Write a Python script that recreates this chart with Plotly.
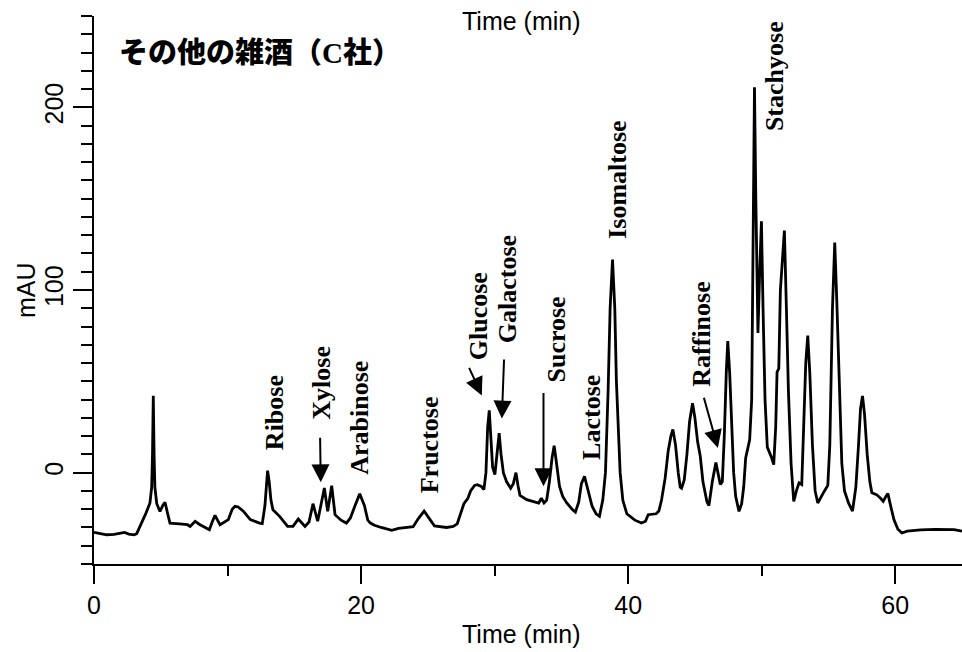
import plotly.graph_objects as go

# Chromatogram: retention time (min) vs detector response (mAU)
time_min = [
    0.0, 0.5, 0.95, 1.5, 1.95, 2.3, 2.6, 3.0, 3.2, 3.57, 3.9, 4.19, 4.32, 4.38, 4.44, 4.5, 4.56,
    4.7, 4.94, 5.15, 5.32, 5.5, 5.69, 6.4, 7.0, 7.2, 7.57, 7.94, 8.44, 8.64, 8.85, 9.06, 9.25,
    9.44, 10.06, 10.35, 10.56, 10.8, 11.2, 11.7, 12.4, 12.6, 12.8, 12.92, 13.0, 13.12, 13.25,
    13.4, 13.9, 14.5, 14.9, 15.3, 15.8, 16.1, 16.4, 16.75, 17.0, 17.25, 17.5, 17.8, 18.05,
    18.5, 18.9, 19.2, 19.55, 19.9, 20.25, 20.5, 20.7, 21.0, 21.5, 22.3, 22.8, 23.5, 23.9,
    24.3, 24.72, 25.1, 25.5, 26.4, 26.9, 27.2, 27.5, 27.7, 28.0, 28.2, 28.5, 28.7, 29.0,
    29.2, 29.35, 29.48, 29.6, 29.72, 29.85, 30.02, 30.2, 30.34, 30.48, 30.66, 30.9, 31.2,
    31.4, 31.6, 31.75, 31.9, 32.4, 33.0, 33.3, 33.5, 33.7, 33.9, 34.1, 34.3, 34.46, 34.62,
    34.86, 35.1, 35.4, 35.8, 36.05, 36.3, 36.5, 36.73, 36.95, 37.3, 37.6, 37.85, 38.1, 38.3,
    38.5, 38.65, 38.83, 39.0, 39.12, 39.3, 39.4, 39.6, 39.9, 40.5, 41.0, 41.3, 41.5, 42.1,
    42.3, 42.5, 42.77, 43.0, 43.2, 43.35, 43.55, 43.75, 43.9, 44.0, 44.2, 44.4, 44.6, 44.82,
    45.0, 45.2, 45.4, 45.6, 45.9, 46.05, 46.3, 46.57, 46.7, 46.9, 47.05, 47.2, 47.35, 47.46,
    47.6, 47.75, 47.9, 48.05, 48.3, 48.5, 48.65, 48.8, 48.95, 49.1, 49.25, 49.35, 49.46,
    49.56, 49.66, 49.72, 49.85, 49.98, 50.1, 50.25, 50.42, 50.6, 50.75, 50.9, 51.05, 51.15,
    51.28, 51.4, 51.7, 51.85, 52.0, 52.2, 52.4, 52.6, 52.8, 53.0, 53.15, 53.3, 53.45, 53.6,
    53.8, 54.0, 54.2, 54.45, 54.7, 54.95, 55.1, 55.3, 55.47, 55.62, 55.8, 56.0, 56.2, 56.5,
    56.8, 57.05, 57.25, 57.4, 57.55, 57.7, 57.9, 58.1, 58.25, 58.6, 58.9, 59.1, 59.3, 59.45,
    59.65, 59.9, 60.2, 60.5, 60.9, 61.9, 63.0, 64.4, 65.0,
]
response_mau = [
    -32.7, -33.5, -34, -33.8, -33.4, -32.7, -33.6, -34, -33.4, -27.6, -22, -16.6, -8, 10, 42.1, 10, -8,
    -17, -21.2, -18, -16.2, -22, -27.6, -28, -28.5, -29.4, -26.6, -28.5, -30.3, -31.2, -27, -23.4, -26,
    -28.5, -25.7, -20, -18.4, -18.8, -21.2, -25.7, -27.6, -27.9, -18, -5, 1.1, -5, -15,
    -20.3, -23.9, -29.4, -29.4, -25.4, -29.4, -27, -17, -26.6, -18, -8.4, -21.2, -7.1, -23,
    -26, -27.6, -24.8, -18, -11.6, -18, -26, -27.6, -28.8, -30, -31.6, -30.5, -30, -29.6,
    -25, -21, -25, -29.2, -30, -29.4, -28, -21, -17, -14, -10, -7, -6.6, -7.5,
    -9.3, 0, 25, 34.1, 20, 3, -1, 12, 21.7, 10, -0.2, -5, -8.5,
    -6, 0, -7, -12.5, -14.8, -16, -16.6, -14, -16.6, -15, -5, 8, 14.8, 6,
    -7.5, -13, -16.6, -20, -21.6, -16, -6, -2, -8, -18.4, -22.5, -23.9, -15, 0,
    45, 90, 116.6, 90, 50, 10, 0, -15, -22.5, -26, -27.6, -26.6, -23, -22.5,
    -21, -15, -3, 12, 20, 23.7, 15, 0, -8, -8.5, -4, 10, 28, 38,
    30, 17, 9, -5, -16, -18, -5, 5.5, 0, -6.5, -5, 20, 55, 72,
    55, 25, 0, -13, -21.2, -17, -8, 8, 14, 18, 40, 130, 211,
    150, 90, 76.5, 110, 137.6, 90, 40, 14, 11, 8, 4.4, 25, 55,
    57, 100, 132.5, 90, 45, 5, -15.7, -10, -5.6, -6.5, 25, 60, 75, 55,
    15, -10, -16.6, -13, -10, -7, 15, 90, 126, 95, 50, 5, -10, -16.6,
    -21, -8, 15, 35, 42, 32, 10, -5, -11, -12, -14, -15.7, -13, -11.5,
    -18, -25.7, -31, -33, -32, -31.3, -31, -31.2, -32,
]

# Peak names and where each name sits (time, mAU at text centre)
peak_names = ["Ribose", "Xylose", "Arabinose", "Fructose", "Glucose", "Galactose",
              "Sucrose", "Lactose", "Isomaltose", "Raffinose", "Stachyose"]
name_time = [13.48, 17.08, 19.93, 25.14, 28.79, 31.03, 34.6, 37.2, 39.25, 45.52, 50.97]
name_mau = [32.6, 49.3, 30.1, 15.4, 85.9, 100.6, 72.9, 30.4, 160.4, 76.0, 216.9]

# Pointer arrows: tail (time, mAU) -> head (time, mAU)
arrow_tail_time = [16.93, 28.04, 30.71, 33.66, 45.64]
arrow_tail_mau = [19.9, 58.2, 62.8, 44.5, 41.8]
arrow_head_time = [16.98, 29.04, 30.54, 33.66, 46.72]
arrow_head_mau = [-5.3, 42.3, 29.6, -7.5, 13.5]

x_ticks = [0, 20, 40, 60]
y_ticks = [0, 100, 200]

SANS = "Liberation Sans, Arial, sans-serif"
SERIF = "Liberation Serif, Times New Roman, serif"

fig = go.Figure()
fig.add_trace(go.Scatter(
    x=time_min, y=response_mau, mode="lines",
    line=dict(color="black", width=2.8), showlegend=False, hoverinfo="x+y",
))

annotations = []
for name, t, v in zip(peak_names, name_time, name_mau):
    annotations.append(dict(
        x=t, y=v, xref="x", yref="y", text=name, showarrow=False, textangle=-90,
        xanchor="center", yanchor="middle",
        font=dict(family=SERIF, size=26, color="black", weight="bold"),
    ))
for tx, ty, hx, hy in zip(arrow_tail_time, arrow_tail_mau, arrow_head_time, arrow_head_mau):
    annotations.append(dict(
        x=hx, y=hy, ax=tx, ay=ty, xref="x", yref="y", axref="x", ayref="y",
        text="", showarrow=True, arrowhead=2, arrowsize=1.8, arrowwidth=2,
        arrowcolor="black", standoff=0, startstandoff=0,
    ))

# Titles and axis captions
annotations += [
    dict(x=0.0265, y=0.9325, xref="paper", yref="paper", xanchor="left", yanchor="middle",
         text="その他の雑酒（C社）", showarrow=False,
         font=dict(family="Liberation Serif, Noto Sans CJK JP", size=29, color="black", weight=900)),
    dict(x=0.492, y=0.991, xref="paper", yref="paper", xanchor="center", yanchor="middle",
         text="Time (min)", showarrow=False, font=dict(family=SANS, size=25, color="black")),
    dict(x=0.492, y=-0.1277, xref="paper", yref="paper", xanchor="center", yanchor="middle",
         text="Time (min)", showarrow=False, font=dict(family=SANS, size=25, color="black")),
    dict(x=-0.0783, y=0.5, xref="paper", yref="paper", xanchor="center", yanchor="middle",
         text="mAU", textangle=-90, showarrow=False, font=dict(family=SANS, size=25, color="black")),
]

fig.update_layout(
    width=962, height=652,
    margin=dict(l=94, r=0, t=16, b=88),
    paper_bgcolor="white", plot_bgcolor="white",
    annotations=annotations,
    xaxis=dict(
        range=[0, 65], tickvals=x_ticks, ticks="outside", ticklen=18, tickwidth=1.5,
        tickcolor="black", showline=True, linecolor="black", linewidth=2,
        showgrid=False, zeroline=False,
        tickfont=dict(family=SANS, size=25, color="black"),
        minor=dict(tickvals=[10, 30, 50], ticks="outside", ticklen=10, tickwidth=1.5,
                   tickcolor="black", showgrid=False),
    ),
    yaxis=dict(
        range=[-50, 250], tickvals=y_ticks, ticks="outside", ticklen=19, tickwidth=1.5,
        tickcolor="black", showline=True, linecolor="black", linewidth=2,
        showgrid=False, zeroline=False, tickangle=-90,
        tickfont=dict(family=SANS, size=25, color="black"),
        minor=dict(dtick=10, ticks="outside", ticklen=11, tickwidth=1.5,
                   tickcolor="black", showgrid=False),
    ),
)

fig.write_html("out.html")
